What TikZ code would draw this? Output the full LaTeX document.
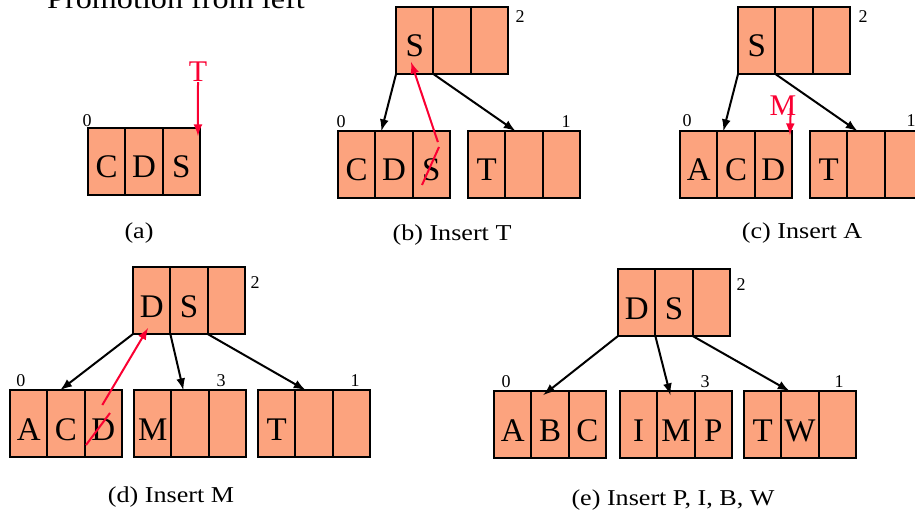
\documentclass[tikz,border=0pt]{standalone}
\usepackage{fontspec}
\setmainfont{Liberation Serif}
\newfontfamily\capfont[FakeStretch=1.15]{Liberation Serif}
\usetikzlibrary{arrows}
\usetikzlibrary{positioning}
\definecolor{keyfill}{RGB}{252,163,126}
\definecolor{promred}{RGB}{250,0,50}
\newcommand{\keybox}[6]{%
  \node[cell] (#1-1) at (#2,#3) {#4};
  \node[cell, right=0pt of #1-1] (#1-2) {#5};
  \node[cell, right=0pt of #1-2] (#1-3) {#6};
}

\begin{document}
\begin{tikzpicture}[x=0.5pt, y=-0.5pt]
\tikzset{
  cell/.style={draw, fill=keyfill, line width=1pt, minimum width=18.65pt,
    minimum height=33.5pt, inner sep=0pt, outer sep=0pt,
    text height=16.5pt, text depth=0pt, font=\fontsize{16.5}{18}\selectfont},
  idx/.style={inner sep=0pt, font=\fontsize{9}{10}\selectfont},
  caption/.style={inner sep=0pt, font=\capfont\fontsize{11.35}{13}\selectfont},
  newkey/.style={inner sep=0pt, text=promred, font=\fontsize{15}{16}\selectfont},
  link/.style={line width=1pt, -latex},
  promote/.style={promred, line width=1pt, -latex},
  strike/.style={promred, line width=1pt}
}
\useasboundingbox (0,0) rectangle (915,518);

\node[anchor=base, inner sep=0pt, font=\capfont\fontsize{14}{16}\selectfont] (title) at (176,9) {Promotion from left};

% (a)
\keybox{A}{106.7}{161.5}{C}{D}{S}
\node[idx] (A-n) at (87,121) {0};
\node[newkey] (Ta) at (198,72) {T};
\draw[promote] (Ta.south) -- ([xshift=-1pt,yshift=-4pt]A-3.north east);
\node[caption] (capA) at (139,233) {(a)};

% (b)
\keybox{B2}{414.7}{40.5}{S}{}{}
\keybox{B0}{356.7}{164.5}{C}{D}{S}
\keybox{B1}{486.7}{164.5}{T}{}{}
\node[idx] (B2-n) at (520,17) {2};
\node[idx] (B0-n) at (341,122) {0};
\node[idx] (B1-n) at (566,122) {1};
\draw[link] (B2-1.south west) -- ([xshift=3pt]B0-2.north west);
\draw[link] (B2-2.south west) -- ([xshift=5pt]B1-2.north west);
\draw[promote] ([xshift=3.3pt,yshift=11.2pt]B0-3.center) -- ([xshift=7.5pt,yshift=6pt]B2-1.south west);
\draw[strike] ([xshift=3.85pt,yshift=8.75pt]B0-3.center) -- ([xshift=-4.65pt,yshift=-10.25pt]B0-3.center);
\node[caption] (capB) at (452,235) {(b) Insert T};

% (c)
\keybox{C2}{756.7}{40.5}{S}{}{}
\keybox{C0}{698.7}{164.5}{A}{C}{D}
\keybox{C1}{828.7}{164.5}{T}{}{}
\node[idx] (C2-n) at (863,17) {2};
\node[idx] (C0-n) at (687,121) {0};
\node[idx] (C1-n) at (911,121) {1};
\draw[link] (C2-1.south west) -- ([xshift=3pt]C0-2.north west);
\draw[link] (C2-2.south west) -- ([xshift=5pt]C1-2.north west);
\node[newkey] (Mc) at (783,106) {M};
\draw[promote] ([xshift=-3pt,yshift=4pt]Mc.south east) -- ([xshift=-1pt,yshift=-2pt]C0-3.north east);
\node[caption] (capC) at (802,233) {(c) Insert A};

% (d)
\keybox{D2}{151.7}{300.5}{D}{S}{}
\keybox{D0}{28.7}{423.5}{A}{C}{D}
\keybox{D3}{152.7}{423.5}{M}{}{}
\keybox{D1}{276.7}{423.5}{T}{}{}
\node[idx] (D2-n) at (255,283) {2};
\node[idx] (D0-n) at (21,381) {0};
\node[idx] (D3-n) at (221,381) {3};
\node[idx] (D1-n) at (355,381) {1};
\draw[link] (D2-1.south west) -- ([xshift=6.5pt]D0-2.north west);
\draw[link] (D2-2.south west) -- ([xshift=6pt]D3-2.north west);
\draw[link] (D2-3.south west) -- ([xshift=5pt]D1-2.north west);
\draw[promote] ([xshift=-0.5pt,yshift=9.25pt]D0-3.center) -- ([xshift=7.5pt,yshift=3pt]D2-1.south west);
\draw[strike] ([xshift=3.35pt,yshift=5.25pt]D0-3.center) -- ([xshift=-8.65pt,yshift=-10.75pt]D0-3.center);
\node[caption] (capD) at (171,497) {(d) Insert M};

% (e)
\keybox{E2}{636.7}{302.5}{D}{S}{}
\keybox{E0}{512.7}{424.5}{A}{B}{C}
\keybox{E3}{638.7}{424.5}{I}{M}{P}
\keybox{E1}{762.7}{424.5}{T}{W}{}
\node[idx] (E2-n) at (741,285) {2};
\node[idx] (E0-n) at (506,382) {0};
\node[idx] (E3-n) at (705,382) {3};
\node[idx] (E1-n) at (839,382) {1};
\draw[link] (E2-1.south west) -- ([xshift=6pt,yshift=-2pt]E0-2.north west);
\draw[link] (E2-2.south west) -- ([xshift=6.5pt,yshift=-2pt]E3-2.north west);
\draw[link] (E2-3.south west) -- ([xshift=4pt]E1-2.north west);
\node[caption] (capE) at (673,500) {(e) Insert P, I, B, W};
\end{tikzpicture}
\end{document}
